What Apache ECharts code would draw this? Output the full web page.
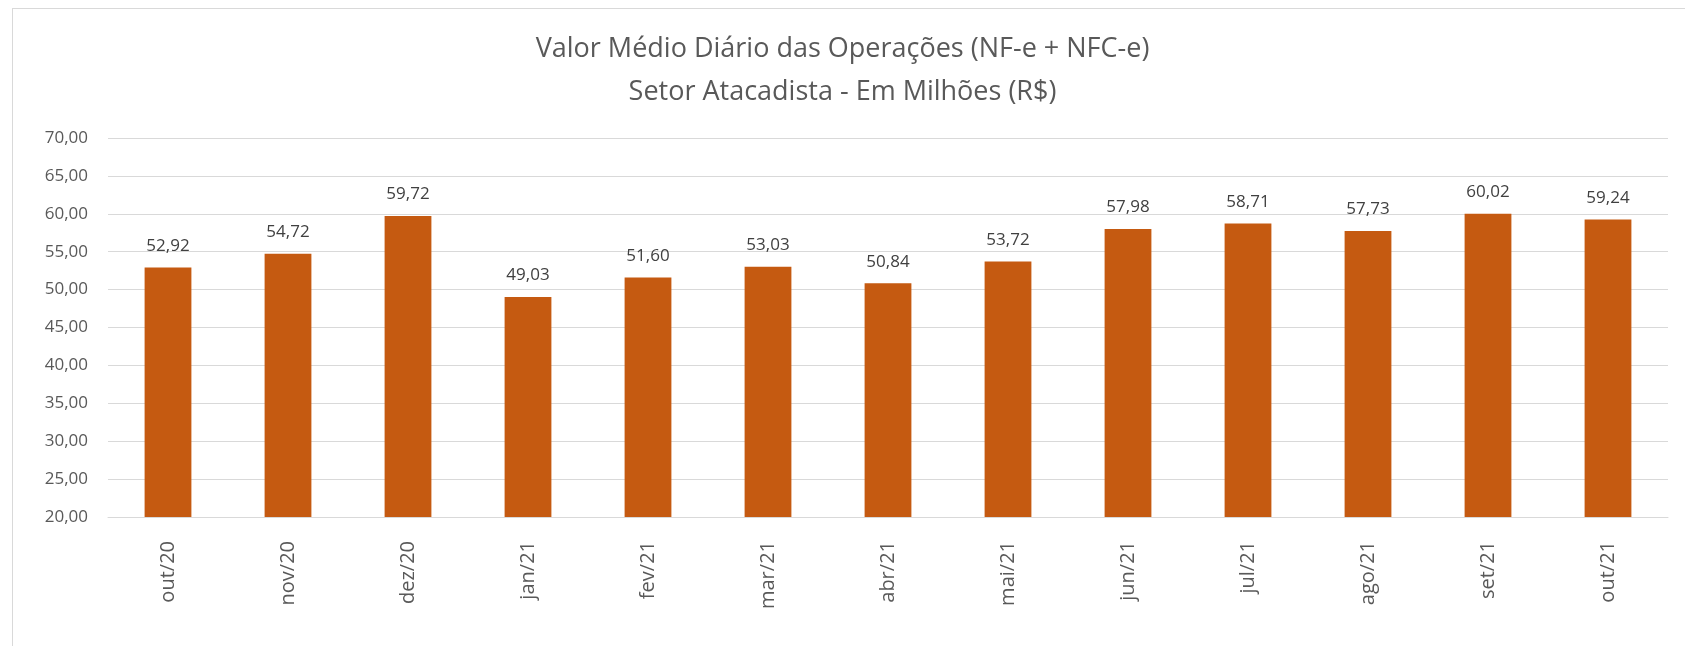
<!DOCTYPE html>
<html>
<head>
<meta charset="utf-8">
<script src="https://cdn.jsdelivr.net/npm/echarts@6/dist/echarts.min.js"></script>
<style>
  html, body { margin: 0; padding: 0; background: #fff; }
  #frame {
    position: absolute; left: 12px; top: 8px; width: 1700px; height: 700px;
    border: 1px solid #d9d9d9; box-sizing: border-box;
  }
  #chart { position: absolute; left: 0; top: 0; width: 1685px; height: 646px; }
</style>
</head>
<body>
<div id="frame"></div>
<div id="chart"></div>
<script>
// data
const months = ['out/20', 'nov/20', 'dez/20', 'jan/21', 'fev/21', 'mar/21', 'abr/21',
  'mai/21', 'jun/21', 'jul/21', 'ago/21', 'set/21', 'out/21']
const valores = [52.92, 54.72, 59.72, 49.03, 51.60, 53.03, 50.84, 53.72, 57.98, 58.71, 57.73, 60.02, 59.24]

const fmt = v => v.toFixed(2).replace('.', ',')

const chart = echarts.init(document.getElementById('chart'))
chart.setOption({
  animation: false,
  textStyle: { fontFamily: 'Open Sans' },
  title: {
    text: 'Valor Médio Diário das Operações (NF-e + NFC-e)\nSetor Atacadista - Em Milhões (R$)',
    left: 'center',
    top: 23,
    textStyle: {
      fontSize: 27,
      fontWeight: 'normal',
      color: '#595959',
      lineHeight: 43,
      fontFamily: 'Open Sans'
    }
  },
  grid: {
    left: 108,
    right: 17,
    top: 138,
    bottom: 129,
    containLabel: false,
    outerBoundsMode: 'none'
  },
  xAxis: {
    type: 'category',
    data: months,
    axisTick: { show: false },
    axisLine: { lineStyle: { color: '#d9d9d9', width: 1 } },
    axisLabel: {
      rotate: 90,
      margin: 24,
      fontSize: 20,
      color: '#595959'
    }
  },
  yAxis: {
    type: 'value',
    min: 20,
    max: 70,
    interval: 5,
    axisLine: { show: false },
    axisTick: { show: false },
    splitLine: { lineStyle: { color: '#d9d9d9', width: 1 } },
    axisLabel: {
      fontSize: 17,
      color: '#595959',
      margin: 20,
      formatter: fmt
    }
  },
  series: [{
    type: 'bar',
    data: valores,
    barWidth: '39%',
    itemStyle: { color: '#c55a11' },
    label: {
      show: true,
      position: 'top',
      distance: 13,
      fontSize: 17,
      color: '#404040',
      formatter: p => fmt(p.value)
    }
  }]
})
</script>
</body>
</html>
